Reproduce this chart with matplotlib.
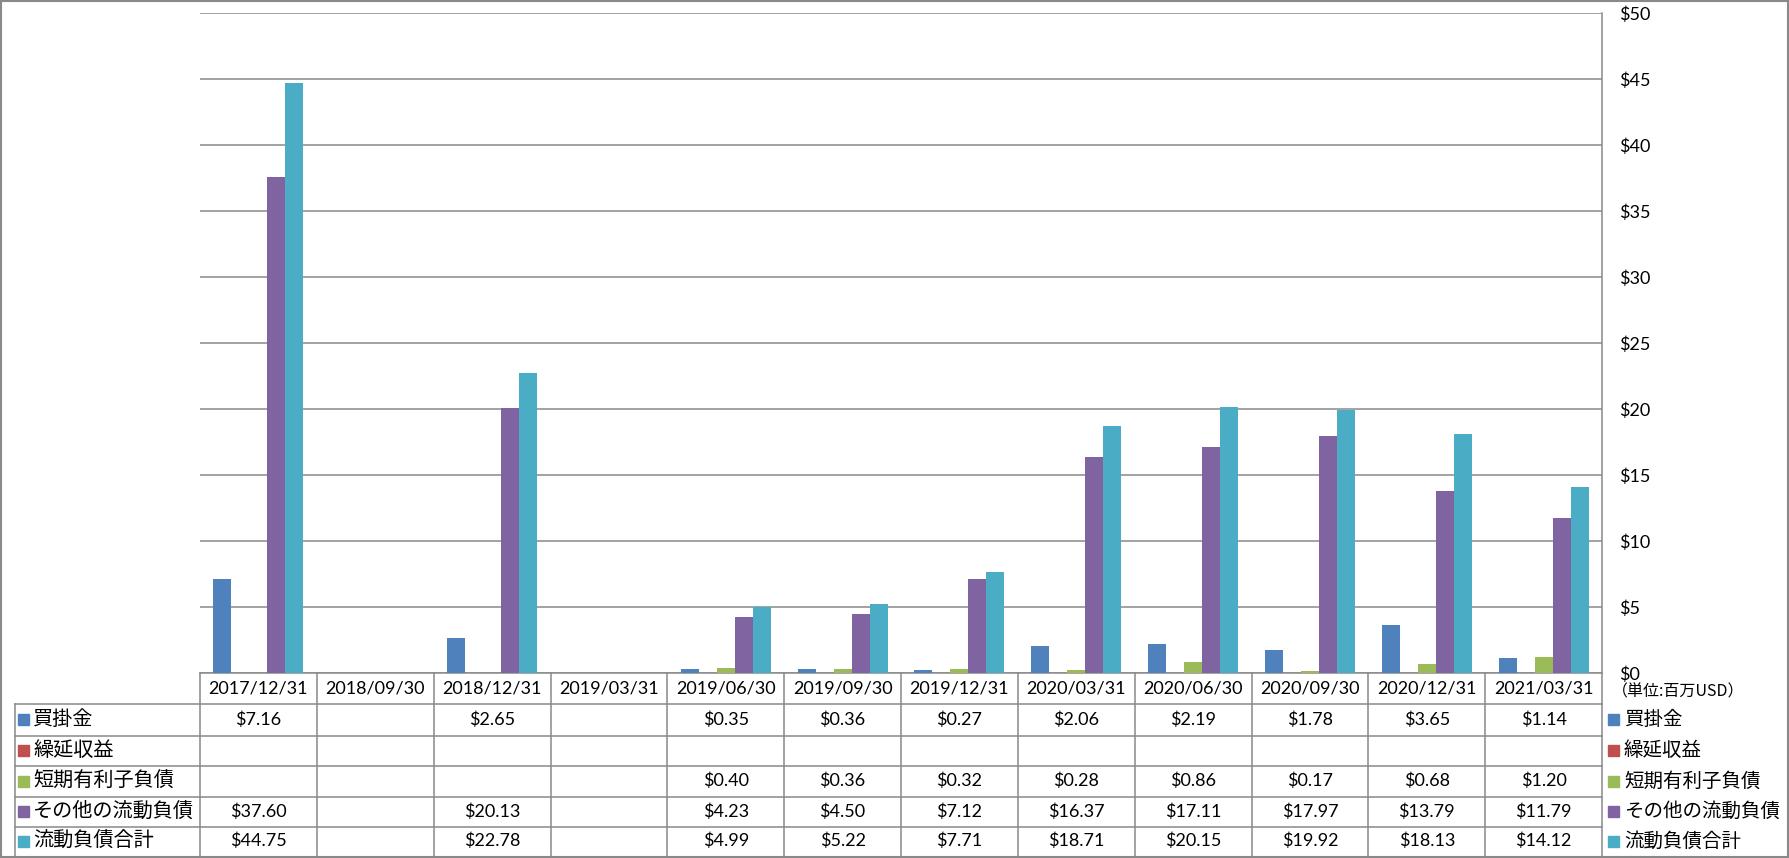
import numpy as np
import matplotlib.pyplot as plt
from matplotlib.transforms import blended_transform_factory
from matplotlib.patches import Rectangle
from matplotlib.lines import Line2D

plt.rcParams['font.family'] = ['Lato', 'Noto Sans CJK JP', 'DejaVu Sans']

# data (million USD)
dates = ['2017/12/31', '2018/09/30', '2018/12/31', '2019/03/31', '2019/06/30', '2019/09/30',
         '2019/12/31', '2020/03/31', '2020/06/30', '2020/09/30', '2020/12/31', '2021/03/31']
series_names = ['買掛金', '繰延収益', '短期有利子負債', 'その他の流動負債', '流動負債合計']
accounts_payable = [7.16, None, 2.65, None, 0.35, 0.36, 0.27, 2.06, 2.19, 1.78, 3.65, 1.14]
deferred_revenue = [None, None, None, None, None, None, None, None, None, None, None, None]
short_term_debt = [None, None, None, None, 0.40, 0.36, 0.32, 0.28, 0.86, 0.17, 0.68, 1.20]
other_current = [37.60, None, 20.13, None, 4.23, 4.50, 7.12, 16.37, 17.11, 17.97, 13.79, 11.79]
total_current = [44.75, None, 22.78, None, 4.99, 5.22, 7.71, 18.71, 20.15, 19.92, 18.13, 14.12]
series = [accounts_payable, deferred_revenue, short_term_debt, other_current, total_current]
colors = ['#4F81BD', '#C0504D', '#9BBB59', '#8064A2', '#4BACC6']
unit_label = '（単位:百万USD）'

W, H = 1789, 858
def fx(px):
    return px / W
def fy(py):
    return 1 - py / H

GRAY = '#898989'
JP = 'Noto Sans CJK JP'
NUM_FS = 13

fig = plt.figure(figsize=(W / 100, H / 100), dpi=100)
ax = fig.add_axes([fx(200), fy(673.3), fx(1602) - fx(200), (673.3 - 13.3) / H])

x = np.arange(len(dates))
w = 0.154
for i, vals in enumerate(series):
    h = np.array([np.nan if v is None else v for v in vals], dtype=float)
    ax.bar(x + (i - 2) * w, np.nan_to_num(h), width=w, color=colors[i], zorder=3)

ax.set_xlim(-0.5, len(dates) - 0.5)
ax.set_ylim(0, 50)
ax.set_yticks(np.arange(0, 51, 5))
ax.set_yticklabels(['$%d' % v for v in range(0, 51, 5)], fontsize=NUM_FS)
ax.yaxis.tick_right()
ax.tick_params(axis='y', length=0, pad=12)
ax.set_xticks([])
ax.grid(axis='y', color=GRAY, lw=1.1, zorder=0)
for s in ['left', 'top']:
    ax.spines[s].set_visible(False)
for s in ['right', 'bottom']:
    ax.spines[s].set_color(GRAY)
    ax.spines[s].set_linewidth(1.1)

# data table under the plot
trans = blended_transform_factory(ax.transData, fig.transFigure)
row_edges = [673.3, 704, 735.5, 766, 796.5, 826.5, 856]
table_left = 15
right_px = 1602

def line(xs, ys, tr):
    fig.add_artist(Line2D(xs, ys, transform=tr, color=GRAY, lw=1.1))

for k in range(len(dates) + 1):
    line([k - 0.5, k - 0.5], [fy(row_edges[0]), fy(row_edges[-1])], trans)
line([fx(table_left), fx(table_left)], [fy(row_edges[1]), fy(row_edges[-1])], fig.transFigure)
for py in row_edges[1:-1]:
    line([fx(table_left), fx(right_px)], [fy(py), fy(py)], fig.transFigure)

hy = (row_edges[0] + row_edges[1]) / 2
for i, d in enumerate(dates):
    fig.text(i, fy(hy), d, transform=trans, ha='center', va='center', fontsize=NUM_FS)

sq = 11
for r, (name, vals) in enumerate(zip(series_names, series)):
    cy = (row_edges[r + 1] + row_edges[r + 2]) / 2
    # row header
    fig.add_artist(Rectangle((fx(18), fy(cy + sq / 2)), fx(sq), sq / H, color=colors[r],
                             transform=fig.transFigure))
    fig.text(fx(33), fy(cy), name, ha='left', va='center', fontsize=14.5, family=JP)
    # legend on the right
    fig.add_artist(Rectangle((fx(1608), fy(cy + sq / 2)), fx(sq), sq / H, color=colors[r],
                             transform=fig.transFigure))
    fig.text(fx(1624), fy(cy), name, ha='left', va='center', fontsize=14, family=JP)
    for i, v in enumerate(vals):
        if v is not None:
            fig.text(i, fy(cy), '$%.2f' % v, transform=trans, ha='center', va='center',
                     fontsize=NUM_FS)

fig.text(fx(1612), fy(hy + 3), unit_label, ha='left', va='center', fontsize=11.5, family=JP)

# outer frame
fig.add_artist(Rectangle((fx(1), fy(857)), fx(1787), 856 / H, fill=False, edgecolor=GRAY,
                         lw=1.5, transform=fig.transFigure))

fig.savefig('out.png', dpi=100)
